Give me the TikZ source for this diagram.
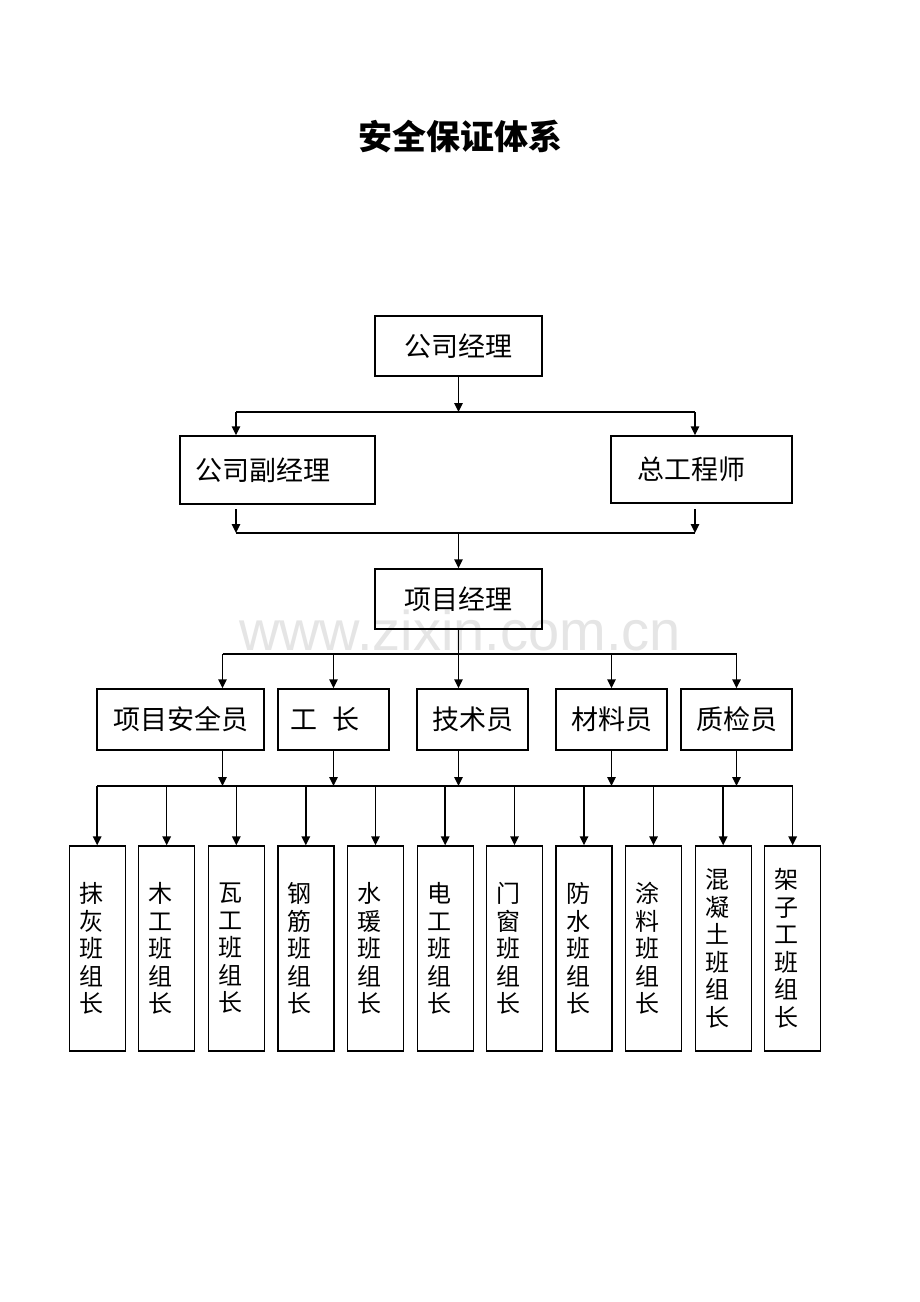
\documentclass[tikz,border=0pt]{standalone}
\usepackage{fontspec}
\newfontfamily\cjk{Noto Sans CJK SC}
\newfontfamily\wmfont{Liberation Sans}
\usetikzlibrary{arrows.meta}
\begin{document}
\begin{tikzpicture}[x=1pt,y=-1pt,
  box/.style={draw,line width=1.4pt,inner sep=0pt,font=\cjk\fontsize{27}{30}\selectfont},
  col/.style={draw,line width=1.4pt,minimum width=56pt,minimum height=205pt,inner ysep=0pt,inner xsep=10pt,text width=36pt,align=left,font=\cjk\fontsize{24}{27.5}\selectfont},
  ln/.style={line width=1.5pt},
  arr/.style={line width=1.5pt,-{Triangle[length=9pt,width=8.5pt]}}]
\useasboundingbox (0,0) rectangle (920,1302);
\fill[white] (0,0) rectangle (920,1302);
% watermark
\node[font=\wmfont\fontsize{56}{60}\selectfont,text=black!10,anchor=base,inner sep=0pt] (wm) at (460,650) {www.zixin.com.cn};
% title
\node[font=\cjk\bfseries\fontsize{34}{40}\selectfont] (title) at (460,137) {安全保证体系};
% boxes
\node[box,minimum width=167pt,minimum height=60pt] (gm) at (458.5,346) {公司经理};
\node[box,minimum width=195pt,minimum height=68pt,inner xsep=15pt,text width=165pt,align=left] (dgm) at (277.5,470) {公司副经理};
\node[box,minimum width=181pt,minimum height=67pt,inner xsep=26pt,text width=129pt,align=left] (ce) at (701.5,469.5) {总工程师};
\node[box,minimum width=167pt,minimum height=60pt] (pm) at (458.5,599) {项目经理};
\node[box,minimum width=167pt,minimum height=61pt] (aq) at (180.5,719.5) {项目安全员};
\node[box,minimum width=111pt,minimum height=61pt,inner xsep=12pt,text width=87pt,align=left] (gz) at (333.5,719.5) {工\hspace{16pt}长};
\node[box,minimum width=111pt,minimum height=61pt] (js) at (472.5,719.5) {技术员};
\node[box,minimum width=111pt,minimum height=61pt] (cl) at (611.5,719.5) {材料员};
\node[box,minimum width=111pt,minimum height=61pt] (zj) at (736.5,719.5) {质检员};
% level 1 connectors
\coordinate (j1) at (458.5,412);
\coordinate (j1l) at (236,412);
\coordinate (j1r) at (695,412);
\draw[ln] (j1l) -- (j1r);
\draw[arr] (gm.south) -- (j1);
\draw[arr] (j1l) -- (j1l |- dgm.north);
\draw[arr] (j1r) -- (j1r |- ce.north);
% level 2 connectors
\coordinate (s2l) at (236,509);
\coordinate (s2r) at (695,509);
\coordinate (j2l) at (236,533);
\coordinate (j2r) at (695,533);
\coordinate (j2) at (458.5,533);
\draw[arr] (s2l) -- (j2l);
\draw[arr] (s2r) -- (j2r);
\draw[ln] (j2l) -- (j2r);
\draw[arr] (j2) -- (pm.north);
% level 3 connectors
\coordinate (j3l) at (222.5,654);
\coordinate (j3r) at (736.5,654);
\draw[ln] (j3l) -- (j3r);
\draw[arr] (j3l) -- (j3l |- aq.north);
\draw[arr] (gz.north |- j3l) -- (gz.north);
\draw[arr] (pm.south) -- (pm.south |- js.north);
\draw[arr] (cl.north |- j3l) -- (cl.north);
\draw[arr] (j3r) -- (zj.north);
% level 4 connectors
\coordinate (j4l) at (97,786);
\coordinate (j4r) at (792.5,786);
\draw[arr] (j3l |- aq.south) -- (j3l |- j4l);
\draw[arr] (gz.south) -- (gz.south |- j4l);
\draw[arr] (pm.south |- js.south) -- (pm.south |- j4l);
\draw[arr] (cl.south) -- (cl.south |- j4l);
\draw[arr] (zj.south) -- (zj.south |- j4l);
\draw[ln] (j4l) -- (j4r);
% bottom boxes
\foreach \x/\t/\n in {
  97.2/{抹\\灰\\班\\组\\长}/c1,
  166.7/{木\\工\\班\\组\\长}/c2,
  236.3/{瓦\\工\\班\\组\\长}/c3,
  305.8/{钢\\筋\\班\\组\\长}/c4,
  375.5/{水\\瑗\\班\\组\\长}/c5,
  445.2/{电\\工\\班\\组\\长}/c6,
  514.5/{门\\窗\\班\\组\\长}/c7,
  584/{防\\水\\班\\组\\长}/c8,
  653.5/{涂\\料\\班\\组\\长}/c9,
  723.2/{混\\凝\\土\\班\\组\\长}/c10,
  792.7/{架\\子\\工\\班\\组\\长}/c11}{
  \node[col] (\n) at (\x,948.5) {\t};
  \draw[arr] (\n.north |- j4l) -- (\n.north);
}
\end{tikzpicture}
\end{document}
